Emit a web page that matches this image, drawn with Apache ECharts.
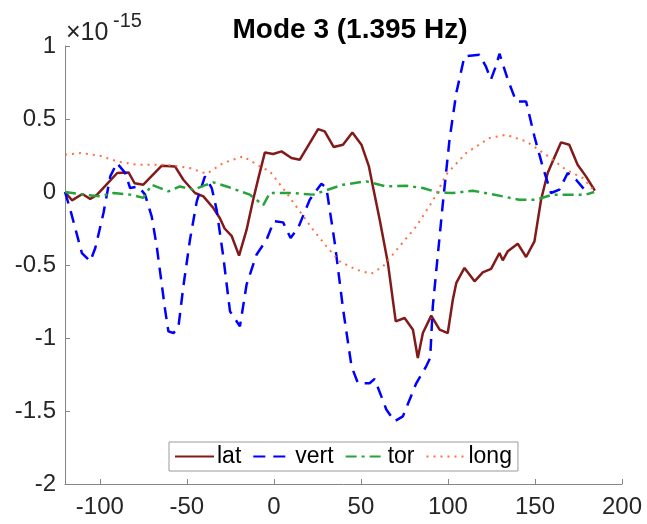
<!DOCTYPE html>
<html>
<head>
<meta charset="utf-8">
<script src="https://cdn.jsdelivr.net/npm/echarts@6/dist/echarts.min.js"></script>
<style>
  html, body { margin: 0; padding: 0; background: #ffffff; }
  #chart { width: 647px; height: 524px; }
</style>
</head>
<body>
<div id="chart"></div>
<script>
// Mode shape components along the span, values in units of 1e-15
const lat = [[-120,0],[-116,-0.057],[-110,-0.014],[-105.5,-0.048],[-101.7,-0.02],[-97,0.04],[-90,0.13],[-83.5,0.134],[-80,0.06],[-75,0.05],[-64.4,0.18],[-56.8,0.175],[-52,0.084],[-45.3,-0.007],[-40.5,-0.03],[-34.8,-0.11],[-31,-0.18],[-28.3,-0.25],[-24.3,-0.3],[-20,-0.436],[-15.7,-0.26],[-11.9,-0.053],[-9,0.09],[-5.2,0.27],[-0.4,0.26],[4.4,0.278],[10.1,0.233],[14.9,0.221],[20.6,0.335],[25.4,0.431],[29.2,0.415],[34.4,0.308],[39.7,0.324],[45.1,0.408],[50.3,0.324],[54.6,0.175],[56.9,0.038],[60.8,-0.19],[65.5,-0.486],[70,-0.886],[75.1,-0.863],[79.9,-0.943],[82.7,-1.137],[85.6,-0.966],[90.4,-0.847],[95.2,-0.943],[99.9,-0.966],[102.8,-0.738],[104.8,-0.623],[109.5,-0.52],[115.3,-0.612],[120,-0.55],[124.8,-0.527],[129.6,-0.418],[131.5,-0.468],[134.4,-0.405],[140.1,-0.354],[144.9,-0.445],[149.7,-0.338],[153.5,-0.053],[157.3,0.13],[160.2,0.21],[165,0.34],[169.7,0.324],[174.5,0.187],[179.3,0.107],[184.4,0.009]];

const vert = [[-120,0],[-117,-0.12],[-110.3,-0.418],[-105.5,-0.475],[-102.6,-0.384],[-97.9,-0.144],[-94,0.107],[-90.2,0.199],[-85.4,0.13],[-82.6,0.027],[-77.8,0.038],[-74,-0.018],[-70.2,-0.167],[-67.3,-0.372],[-62.5,-0.806],[-60.6,-0.955],[-57.7,-0.966],[-54.9,-0.93],[-52,-0.646],[-48.2,-0.327],[-44.3,-0.064],[-39.6,0.107],[-35.7,0.027],[-32.9,-0.121],[-29.1,-0.44],[-25.2,-0.818],[-19.5,-0.92],[-15.7,-0.635],[-10,-0.43],[-4.2,-0.327],[0,-0.2],[5.3,-0.208],[9.6,-0.315],[13.9,-0.247],[20.6,-0.053],[27.3,0.057],[30.2,0.027],[35,-0.35],[39.8,-0.806],[44.6,-1.194],[48.3,-1.31],[55,-1.31],[57.9,-1.28],[64.6,-1.49],[69.4,-1.57],[74.1,-1.537],[81.8,-1.31],[87.5,-1.194],[89.8,-1.137],[91.3,-0.783],[97.1,-0.075],[100.9,0.358],[104.8,0.678],[109.5,0.929],[118.1,0.94],[121.8,0.86],[124.7,0.77],[127.5,0.86],[129.6,0.947],[134.4,0.77],[139.2,0.62],[144.9,0.62],[149.7,0.38],[154.4,0.175],[159.2,-0.007],[164,0.016],[168.8,0.13],[173.6,0.084],[179.3,0.004]];

const tor = [[-120,0],[-109,-0.018],[-99.8,-0.03],[-92,-0.007],[-82.6,-0.018],[-75,-0.04],[-70.2,0.05],[-60.6,0.004],[-54,0.038],[-46.3,0.016],[-38.6,0.05],[-34.8,0.066],[-27.1,0.038],[-13.8,-0.018],[-6.1,-0.09],[-2.3,-0.007],[11,-0.007],[22.5,-0.018],[39.7,0.05],[53.1,0.073],[64.6,0.038],[76,0.043],[85.6,0.027],[94.2,-0.003],[102.8,-0.007],[114.3,0.009],[131.5,-0.03],[141,-0.053],[150.6,-0.053],[160,-0.018],[169.7,-0.018],[179.3,-0.018],[184,0]];

const long = [[-120,0.255],[-111,0.267],[-100,0.249],[-90.2,0.21],[-78.7,0.187],[-61.5,0.187],[-48.2,0.164],[-38.6,0.125],[-29,0.199],[-17.6,0.244],[-8,0.175],[-2.3,0.141],[7.3,-0.007],[14.9,-0.133],[22.5,-0.258],[30.2,-0.372],[37.8,-0.475],[47.4,-0.532],[56,-0.56],[62.7,-0.51],[72.2,-0.372],[81.8,-0.236],[91.3,-0.06],[99,0.12],[110.5,0.267],[123.9,0.37],[133.4,0.392],[144.9,0.347],[156.4,0.255],[167.8,0.153],[177.4,0.096],[184,0.01]];

const xTicks = [-100, -50, 0, 50, 100, 150, 200];
const seriesNames = ['lat', 'vert', 'tor', 'long'];

const FONT = 'Liberation Sans, Arial, Helvetica, sans-serif';
const AXIS_GRAY = '#858585';
const TEXT = '#262626';

const chart = echarts.init(document.getElementById('chart'), null, { renderer: 'canvas' });

function lineSeries(name, data, color, type, width) {
  return {
    name: name,
    type: 'line',
    data: data,
    symbol: 'none',
    smooth: false,
    animation: false,
    itemStyle: { color: color },
    lineStyle: { color: color, width: width, type: type, cap: 'butt' }
  };
}

chart.setOption({
  backgroundColor: '#ffffff',
  animation: false,
  title: {
    text: 'Mode 3 (1.395 Hz)',
    left: 345,
    top: 11,
    textAlign: 'center',
    textStyle: { fontFamily: FONT, fontSize: 28, fontWeight: 'bold', color: '#000000' }
  },
  grid: { left: 65, right: 25, top: 46, bottom: 40, containLabel: false },
  xAxis: {
    type: 'value',
    min: -120,
    max: 200,
    axisLine: { show: true, onZero: false, lineStyle: { color: AXIS_GRAY, width: 1 } },
    axisTick: { show: true, inside: true, length: 5, customValues: xTicks, lineStyle: { color: AXIS_GRAY } },
    axisLabel: { customValues: xTicks, margin: 11, color: TEXT, fontFamily: FONT, fontSize: 24 },
    splitLine: { show: false }
  },
  yAxis: {
    type: 'value',
    min: -2,
    max: 1,
    interval: 0.5,
    axisLine: { show: true, onZero: false, lineStyle: { color: AXIS_GRAY, width: 1 } },
    axisTick: { show: true, inside: true, length: 5, lineStyle: { color: AXIS_GRAY } },
    axisLabel: { margin: 9, color: TEXT, fontFamily: FONT, fontSize: 24,
      formatter: function (v) { return String(Math.round(v * 10) / 10); } },
    splitLine: { show: false }
  },
  legend: {
    data: seriesNames,
    left: 169,
    top: 442,
    orient: 'horizontal',
    itemWidth: 39,
    itemHeight: 14,
    itemGap: 11,
    padding: [3, 6, 3, 5],
    borderColor: '#9a9a9a',
    borderWidth: 1,
    backgroundColor: '#ffffff',
    itemStyle: { opacity: 0 },
    textStyle: { fontFamily: FONT, fontSize: 23, color: '#000000', padding: [0, 0, 0, -2] }
  },
  graphic: [
    {
      // axis exponent: ×10 with a raised -15
      type: 'text',
      x: 66,
      y: 33,
      style: { text: '×10', fontFamily: FONT, fontSize: 25, fill: TEXT, verticalAlign: 'middle', align: 'left' }
    },
    {
      type: 'text',
      x: 113,
      y: 21,
      style: { text: '-15', fontFamily: FONT, fontSize: 20, fill: TEXT, verticalAlign: 'middle', align: 'left' }
    }
  ],
  series: [
    lineSeries('lat', lat, '#821a1a', 'solid', 2.5),
    lineSeries('vert', vert, '#0000ff', [12, 8], 2.5),
    lineSeries('tor', tor, '#26a33a', [11, 5, 3, 5], 2.5),
    lineSeries('long', long, '#ff6f40', [2, 5], 2)
  ]
});
</script>
</body>
</html>
